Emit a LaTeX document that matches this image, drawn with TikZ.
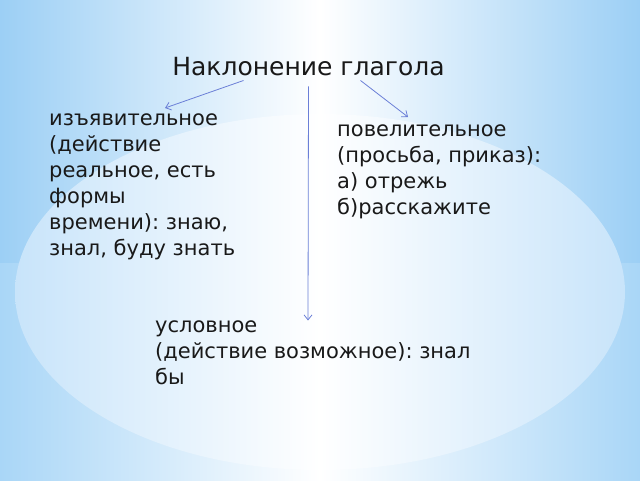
\documentclass[tikz,border=0pt]{standalone}
\usepackage{fontspec}
\setmainfont{DejaVu Sans}
\frenchspacing
\usetikzlibrary{positioning,arrows.meta}

\definecolor{bgblue}{HTML}{9CCFF5}
\definecolor{bgblueb}{HTML}{A9D6F7}
\definecolor{glow}{HTML}{C8E4FA}
\definecolor{arrblue}{HTML}{6B7FD7}

\tikzset{
  txt/.style={anchor=north west, align=left, inner sep=0pt, text=black!90,
    font=\fontsize{21}{26}\selectfont},
  arr/.style={draw=arrblue, line width=0.8pt, -{Straight Barb[length=5pt,width=8pt]}}
}

\begin{document}
\begin{tikzpicture}[x=1pt,y=-1pt]

% Background
\useasboundingbox (0,0) rectangle (640,480);
\shade[left color=bgblue, right color=bgblue, middle color=white] (0,0) rectangle (640,263);
\shade[left color=bgblueb, right color=bgblueb, middle color=white] (0,263) rectangle (640,480);
\begin{scope}
\clip (0,0) rectangle (640,480);
\shade[left color=glow, right color=glow, middle color=white] (320,292) ellipse [x radius=305, y radius=178];
\end{scope}

% Title
\node[font=\fontsize{25}{30}\selectfont, inner sep=0pt, text=black!90] (title) at (308.5,67) {Наклонение глагола};

% Three moods
\node[txt] (izj) at (49,113.5) {изъявительное\\(действие\\реальное, есть\\формы\\времени): знаю,\\знал, буду знать};
\node[txt] (pov) at (337,124.5) {повелительное\\(просьба, приказ):\\а) отрежь\\б)расскажите};
\node[txt] (usl) at (155,320.5) {условное\\(действие возможное): знал\\бы};

% Arrows
\draw[arr] ([xshift=-65pt,yshift=-4pt]title.south) -- ([xshift=116pt,yshift=5.5pt]izj.north west);
\draw[arr] ([yshift=-10pt]title.south) -- ([xshift=153pt]usl.north west);
\draw[arr] ([xshift=52pt,yshift=-4pt]title.south) -- ([xshift=71pt,yshift=7.5pt]pov.north west);

\end{tikzpicture}
\end{document}
